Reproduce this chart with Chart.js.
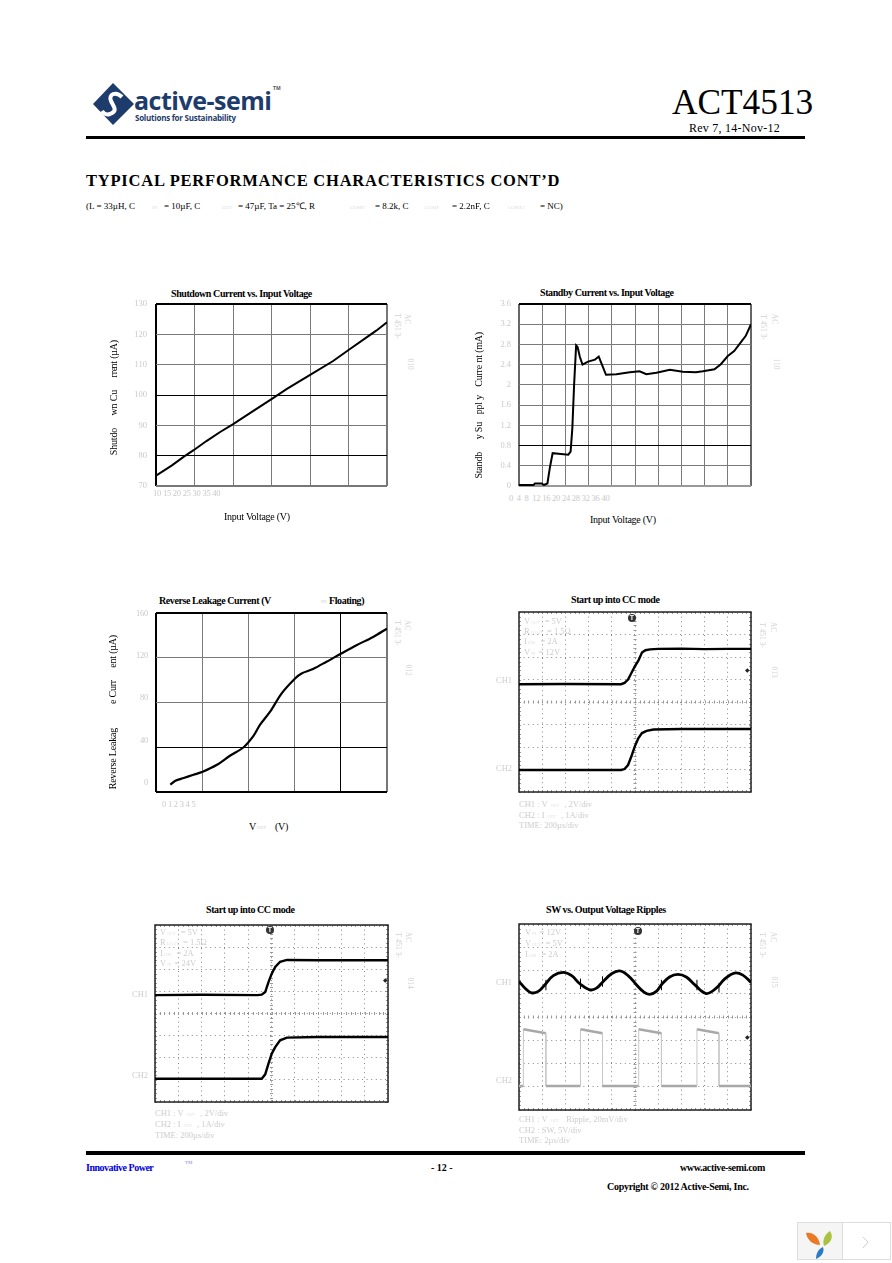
<!DOCTYPE html>
<html>
<head>
<meta charset="utf-8">
<title>ACT4513</title>
<script src="https://cdn.jsdelivr.net/npm/chart.js@4"></script>
<style>
html, body { margin: 0; padding: 0; background: #fff; }
#page { position: relative; width: 892px; height: 1263px; overflow: hidden; font-family: "Liberation Serif", serif; color: #000; }
#page canvas { position: absolute; }
.t { position: absolute; white-space: pre; line-height: 1; transform: translateY(-50%); }
.b { font-weight: bold; }
.title { font-weight: bold; font-size: 10px; letter-spacing: -0.42px; }
.axis { font-size: 10px; letter-spacing: -0.25px; }
.tick { font-size: 8.5px; color: #c9c9c9; letter-spacing: -0.25px; }
.note { font-size: 8.5px; color: #cdcdcd; }
.note sub { font-size: 4px; vertical-align: baseline; padding: 0 1px; color: #e2e2e2; }
.v { position: absolute; white-space: pre; line-height: 1; writing-mode: vertical-rl; transform: translateX(-50%) rotate(180deg); font-size: 10px; letter-spacing: -0.2px; }
.faint { position: absolute; white-space: pre; line-height: 1; writing-mode: vertical-rl; transform: translate(-50%, -50%); font-size: 7.5px; color: #d2d2d2; }
.trig { position: absolute; width: 8px; height: 8px; border-radius: 50%; background: #333; color: #fff; font: bold 7px/8px "Liberation Sans", sans-serif; text-align: center; transform: translate(-50%, -50%); }
.rule { position: absolute; left: 86px; width: 719px; background: #000; }
</style>
</head>
<body>
<div id="page">
  <svg style="position:absolute;left:90px;top:80px" width="48" height="48" viewBox="0 0 48 48">
    <polygon points="23,3 44,24 23,45 3,24" fill="#1d3c6c"/>
    <path d="M32,17 C26,11 18,14 21,21 C24,27 28,31 20,34 C17,35 14,34 12,31" fill="none" stroke="#fff" stroke-width="4"/>
  </svg>
  <div class="t" style="left:134px;top:100px;font:bold 25px 'Open Sans',sans-serif;color:#1d3c6c;letter-spacing:-0.5px">active-semi</div>
  <div class="t" style="left:135px;top:117px;font:bold 8px 'Open Sans',sans-serif;color:#1d3c6c;letter-spacing:-0.25px">Solutions for Sustainability</div>
  <div class="t" style="left:273px;top:88px;font:bold 5px 'Open Sans',sans-serif;color:#555">TM</div>
  <div class="t" style="left:672px;top:103px;font-size:35.3px">ACT4513</div>
  <div class="t" style="left:689px;top:128px;font-size:12px;letter-spacing:0.25px">Rev 7, 14-Nov-12</div>
  <div class="rule" style="top:136px;height:3px"></div>
  <div class="t b" style="left:86px;top:181px;font-size:16.5px;letter-spacing:0.78px">TYPICAL PERFORMANCE CHARACTERISTICS CONT’D</div>
  <div class="rule" style="top:1151px;height:4px"></div>
  <div class="t b" style="left:86px;top:1168px;font-size:10px;color:#0000e0;letter-spacing:-0.5px">Innovative Power</div>
  <div class="t" style="left:185px;top:1162px;font-size:5px;color:#8888dd">TM</div>
  <div class="t b" style="left:431px;top:1168px;font-size:10px">- 12 -</div>
  <div class="t b" style="left:680px;top:1168px;font-size:10px;letter-spacing:-0.35px">www.active-semi.com</div>
  <div class="t b" style="left:607px;top:1187px;font-size:10px;letter-spacing:-0.28px">Copyright © 2012 Active-Semi, Inc.</div>
  <svg style="position:absolute;left:797px;top:1222px" width="94" height="38" viewBox="0 0 94 38">
    <rect x="0.5" y="0.5" width="93" height="37" fill="#fff" stroke="#ddd"/>
    <rect x="0.5" y="0.5" width="45" height="37" fill="#f5f5f5" stroke="#ddd"/>
    <path d="M9,11 C16,10 22,15 23,23 C16,23 10,18 9,11 Z" fill="#ea7a26"/>
    <path d="M33,9 C37,15 34,21 27,24 C25,18 28,12 33,9 Z" fill="#a9c23f"/>
    <path d="M26,25 C28,30 24,35 19,37 C19,32 21,27 26,25 Z" fill="#2c7cc4"/>
    <path d="M66,15 L71,20 L66,26" fill="none" stroke="#ccc"/>
  </svg>
</div>
<script>
// readings off the page, one x and one y list per curve
var shutdownVin = [10, 12.07, 13.58, 14.88, 16.6, 18.33, 19.97, 22.2, 25.1, 27, 30.07, 33, 35.1, 37.3, 38.6, 40];
var shutdownUa = [73.4, 76.8, 79.6, 81.8, 84.9, 87.8, 90.3, 94, 98.8, 102, 106.7, 111.2, 115, 118.9, 121.2, 124];
var shutdownXTicks = '10 15 20 25 30 35 40';

var standbyVin = [0, 2.5, 2.75, 3.9, 4.3, 4.9, 5.3, 5.8, 6.8, 8.5, 8.9, 9.2, 9.5, 9.85, 10.1, 10.5, 10.95, 11.9, 13.1, 13.75, 14.3, 15, 16.8, 19.1, 20.8, 21.95, 23.7, 26, 28.25, 30.5, 31.7, 33.7, 34.8, 36, 37.1, 38.3, 39.1, 40];
var standbyMa = [0.02, 0.02, 0.05, 0.05, 0.02, 0.05, 0.35, 0.65, 0.64, 0.62, 0.68, 1.15, 2, 2.78, 2.75, 2.55, 2.4, 2.46, 2.5, 2.56, 2.4, 2.2, 2.21, 2.25, 2.27, 2.21, 2.24, 2.3, 2.26, 2.25, 2.27, 2.31, 2.41, 2.57, 2.67, 2.85, 2.97, 3.2];
var standbyXTicks = '0  4  8  12 16 20 24 28 32 36 40';

var leakVout = [0.31, 0.42, 0.6, 0.81, 1.01, 1.32, 1.6, 1.89, 2.11, 2.25, 2.47, 2.72, 3.01, 3.15, 3.4, 3.69, 4.01, 4.34, 4.7, 5];
var leakUa = [6.5, 10.1, 12.5, 15.4, 18.1, 24.3, 32.4, 39.8, 50.2, 60, 71.8, 88.2, 101.5, 106, 110, 116.4, 123.8, 131.2, 138.6, 146];
var leakXTicks = '0 1 2 3 4 5';
var leakYTicks = ['160', '120', '80', '40', '0'];

// scope traces, in divisions (10 across, 8 up)
var cc12Time = [0, 2, 4.4, 4.55, 4.7, 4.85, 5, 5.15, 5.3, 5.45, 5.65, 6, 7, 8, 9, 10];
var cc12Ch1 = [4.79, 4.8, 4.79, 4.85, 5, 5.3, 5.6, 5.85, 6.2, 6.3, 6.34, 6.36, 6.37, 6.35, 6.36, 6.36];
var cc12Time2 = [0, 2, 4.4, 4.55, 4.7, 4.85, 5, 5.15, 5.3, 5.5, 5.8, 7, 10];
var cc12Ch2 = [0.98, 0.98, 0.98, 1.02, 1.2, 1.6, 2.05, 2.4, 2.62, 2.72, 2.78, 2.8, 2.8];

var cc24Time = [0, 2, 4.4, 4.58, 4.73, 4.87, 5.01, 5.16, 5.37, 5.66, 7, 10];
var cc24Ch1 = [4.83, 4.85, 4.83, 4.85, 4.97, 5.42, 5.8, 6.1, 6.34, 6.42, 6.41, 6.41];
var cc24Ch2 = [1.05, 1.05, 1.05, 1.05, 1.25, 1.73, 2.18, 2.48, 2.79, 2.91, 2.94, 2.94];

var rippleTime = [0, 0.26, 0.54, 0.83, 1.12, 1.48, 1.91, 2.27, 2.62, 3.05, 3.34, 3.63, 3.99, 4.34, 4.7, 5.06, 5.35, 5.63, 5.92, 6.14, 6.49, 6.85, 7.21, 7.57, 8.07, 8.5, 8.86, 9.29, 9.65, 10];
var rippleCh1 = [5.53, 5.24, 5.04, 5.1, 5.39, 5.78, 5.92, 5.78, 5.43, 5.17, 5.24, 5.53, 5.86, 5.98, 5.78, 5.39, 5.1, 4.97, 5.1, 5.39, 5.72, 5.83, 5.72, 5.39, 5.01, 5.24, 5.63, 5.89, 5.8, 5.49];
var spikeTime = [1.16, 1.16, null, 2.65, 2.65, null, 3.6, 3.6, null, 6.14, 6.14, null, 7.67, 7.67, null, 8.62, 8.62];
var spikeCh1 = [5.15, 5.6, null, 5.2, 5.65, null, 5.3, 5.75, null, 5.15, 5.6, null, 5.15, 5.6, null, 5.05, 5.45];
var swTime = [0, 0.19, 0.19, 1.16, 1.16, 2.65, 2.65, 3.6, 3.6, 5.16, 5.16, 6.14, 6.14, 7.67, 7.67, 8.62, 8.62, 10];
var swCh2 = [1.03, 1.03, 3.47, 3.3, 1.03, 1.03, 3.47, 3.3, 1.03, 1.03, 3.47, 3.3, 1.03, 1.03, 3.47, 3.3, 1.03, 1.03];

var page = document.getElementById('page');
var BLACK = '#000', GRID = '#7a7a7a', EDGE = '#777';

function put(x, y, html, cls, css) {
  var el = document.createElement('div');
  el.className = 't ' + (cls || '');
  el.style.left = x + 'px';
  el.style.top = y + 'px';
  if (css) el.style.cssText += css;
  el.innerHTML = html;
  page.appendChild(el);
}
function vert(x, top, str) {
  var el = document.createElement('div');
  el.className = 'v';
  el.style.left = x + 'px';
  el.style.top = top + 'px';
  el.textContent = str;
  page.appendChild(el);
}
function faint(x, y, str) {
  var el = document.createElement('div');
  el.className = 'faint';
  el.style.left = x + 'px';
  el.style.top = y + 'px';
  el.textContent = str;
  page.appendChild(el);
}
function trig(x, y) {
  var el = document.createElement('div');
  el.className = 'trig';
  el.style.left = x + 'px';
  el.style.top = y + 'px';
  el.textContent = 'T';
  page.appendChild(el);
}
function pts(xs, ys) {
  return xs.map(function (x, i) { return { x: x, y: ys[i] }; });
}
function line(xs, ys, width, color, tension) {
  return { data: pts(xs, ys), borderColor: color || BLACK, borderWidth: width, pointRadius: 0, showLine: true, tension: tension || 0, spanGaps: false };
}

// plot area is given in page pixels; canvas is grown around it for the y labels
function addChart(area, datasets, xs, ys, plugins) {
  var c = document.createElement('canvas');
  var left = 44, pad = 5;
  c.width = area.w + left + pad;
  c.height = area.h + pad * 2;
  c.style.left = (area.l - left) + 'px';
  c.style.top = (area.t - pad) + 'px';
  page.appendChild(c);
  return new Chart(c, {
    type: 'scatter',
    data: { datasets: datasets },
    plugins: plugins || [],
    options: {
      responsive: false,
      animation: false,
      layout: { padding: { top: pad, right: pad, bottom: pad, left: 0 } },
      plugins: { legend: { display: false }, tooltip: { enabled: false } },
      scales: {
        x: Object.assign({ type: 'linear', ticks: { display: false }, afterFit: function (s) { s.height = 0; } }, xs),
        // tick label overhang would otherwise shrink the plot
        y: Object.assign({ type: 'linear', afterFit: function (s) { s.width = left; s.paddingTop = 0; s.paddingBottom = 0; } }, ys)
      }
    }
  });
}

// colour and weight of each grid line, the heavy ones differ from plot to plot
function gridOf(darkVals, heavyVals, heavyColor) {
  return {
    drawTicks: false,
    color: function (ctx) {
      var v = ctx.tick.value;
      if (darkVals.indexOf(v) >= 0) return BLACK;
      return heavyVals.indexOf(v) >= 0 ? (heavyColor || EDGE) : GRID;
    },
    lineWidth: function (ctx) {
      var v = ctx.tick.value;
      return heavyVals.indexOf(v) >= 0 ? 2 : 1;
    }
  };
}
function yTicksOpts(step) {
  return { stepSize: step, padding: 9, color: '#c9c9c9', font: { family: 'Liberation Serif', size: 8.5 } };
}

// ---- shutdown current
addChart({ l: 156, t: 304, w: 231, h: 182 },
  [line(shutdownVin, shutdownUa, 2)],
  { min: 10, max: 40, grid: gridOf([10], [10, 40]), border: { display: false }, ticks: { display: false, stepSize: 5 } },
  { min: 70, max: 130, grid: gridOf([130, 100, 80], [130, 70]), border: { display: false }, ticks: yTicksOpts(10) });
put(171, 294, 'Shutdown Current vs. Input Voltage', 'title');
put(153, 493, shutdownXTicks, 'tick');
put(224, 517, 'Input Voltage (V)', 'axis');
vert(114, 428, 'Shutdo');
vert(114, 390, 'wn Cu');
vert(114, 367, 'rre');
vert(114, 340, 'nt (µA)');
faint(407, 319, 'AC'); faint(397, 326, 'T 451 3-'); faint(410, 364, '010');

// ---- standby current
addChart({ l: 519, t: 304, w: 232, h: 182 },
  [line(standbyVin, standbyMa, 2)],
  { min: 0, max: 40, grid: gridOf([], [0, 40], '#666'), border: { display: false }, ticks: { display: false, stepSize: 4 } },
  { min: 0, max: 3.6, grid: gridOf([3.6, 0.8], [3.6, 0], '#999'), border: { display: false },
    ticks: Object.assign(yTicksOpts(0.4), { padding: 8, callback: function (v) { return String(Math.round(v * 10) / 10); } }) });
put(540, 293, 'Standby Current vs. Input Voltage', 'title');
put(509, 498, standbyXTicks, 'tick');
put(590, 520, 'Input Voltage (V)', 'axis');
vert(479, 452, 'Standb');
vert(479, 422, 'y Su');
vert(479, 395, 'ppl y');
vert(479, 365, 'Curre');
vert(479, 332, 'nt (mA)');
faint(774, 319, 'AC'); faint(763, 327, 'T 451 3-'); faint(776, 364, '110');

// ---- reverse leakage, its y labels sit away from the grid lines so they are placed by hand
addChart({ l: 156, t: 613, w: 231, h: 179 },
  [line(leakVout, leakUa, 2.2, BLACK, 0.3)],
  { min: 0, max: 5, grid: gridOf([0, 4], [0, 5]), border: { display: false }, ticks: { display: false, stepSize: 1 } },
  { min: 0, max: 160, grid: gridOf([160, 40, 0], [160, 0]), border: { display: false }, ticks: { display: false, stepSize: 40 } });
put(159, 601, 'Reverse Leakage Current (V', 'title');
put(321, 601, 'IN', 'note', 'font-size:5px');
put(329, 601, 'Floating)', 'title');
[613, 655, 697, 740, 782].forEach(function (y, i) {
  put(148, y, leakYTicks[i], 'tick', 'transform:translate(-100%,-50%)');
});
put(162, 804, leakXTicks, 'tick');
put(249, 827, 'V', 'axis');
put(257, 828, 'OUT', 'note', 'font-size:4.5px');
put(275, 827, '(V)', 'axis');
vert(113, 728, 'Reverse Leakag');
vert(113, 680, 'e Curr');
vert(113, 635, 'ent (µA)');
faint(407, 625, 'AC'); faint(397, 633, 'T 451 3-'); faint(408, 670, '012');

// ---- scope shots
var scopeFrame = {
  id: 'scopeFrame',
  beforeDatasetsDraw: function (chart) {
    var g = chart.ctx, a = chart.chartArea, sx = chart.scales.x, sy = chart.scales.y;
    var cx = sx.getPixelForValue(5), cy = sy.getPixelForValue(4), i, p;
    g.save();
    g.strokeStyle = '#999';
    g.lineWidth = 1;
    g.beginPath();
    for (i = 0; i <= 50; i++) {
      p = Math.round(sx.getPixelForValue(i / 5)) + 0.5;
      g.moveTo(p, cy - 1.5); g.lineTo(p, cy + 1.5);
      g.moveTo(p, a.top); g.lineTo(p, a.top + 2);
      g.moveTo(p, a.bottom - 2); g.lineTo(p, a.bottom);
    }
    for (i = 0; i <= 40; i++) {
      p = Math.round(sy.getPixelForValue(i / 5)) + 0.5;
      g.moveTo(cx - 1.5, p); g.lineTo(cx + 1.5, p);
      g.moveTo(a.left, p); g.lineTo(a.left + 2, p);
      g.moveTo(a.right - 2, p); g.lineTo(a.right, p);
    }
    g.stroke();
    g.strokeStyle = '#222';
    g.lineWidth = 1.5;
    g.strokeRect(a.left, a.top, a.right - a.left, a.bottom - a.top);
    g.restore();
  }
};
function scope(area, datasets) {
  var dotted = { drawTicks: false, color: '#888', lineWidth: 1 };
  addChart(area, datasets,
    { min: 0, max: 10, grid: dotted, border: { display: false, dash: [1, 3.6] }, ticks: { display: false, stepSize: 1 } },
    { min: 0, max: 8, grid: dotted, border: { display: false, dash: [1, 3.6] }, ticks: { display: false, stepSize: 1 } },
    [scopeFrame]);
}
function notes(x, ys, lines) {
  lines.forEach(function (s, i) { put(x, ys[i], s, 'note'); });
}

scope({ l: 519, t: 612, w: 232, h: 180 },
  [line(cc12Time, cc12Ch1, 2.4), line(cc12Time2, cc12Ch2, 2.4)]);
put(571, 600, 'Start up into CC mode', 'title');
notes(524, [621, 631, 641, 652], ['V<sub>OUT</sub>  = 5V', 'R<sub>LOAD</sub>  = 1.5Ω', 'I<sub>LIM</sub>  = 2A', 'V<sub>IN</sub> = 12V']);
notes(519, [804, 815, 825], ['CH1 : V<sub>  OUT</sub>  , 2V/div', 'CH2 : I<sub>  OUT</sub>  , 1A/div', 'TIME: 200µs/div']);
put(496, 680, 'CH1', 'note'); put(496, 768, 'CH2', 'note');
trig(632, 618);
put(745, 670, '◆', 'note', 'font-size:6px;color:#222');
faint(773, 627, 'AC'); faint(762, 635, 'T 451 3-'); faint(774, 672, '013');

scope({ l: 155, t: 925, w: 233, h: 177 },
  [line(cc24Time, cc24Ch1, 2.4), line(cc24Time, cc24Ch2, 2.4)]);
put(206, 910, 'Start up into CC mode', 'title');
notes(160, [932, 942, 953, 963], ['V<sub>OUT</sub>  = 5V', 'R<sub>LOAD</sub>  = 1.5Ω', 'I<sub>LIM</sub>  = 2A', 'V<sub>IN</sub> = 24V']);
notes(155, [1113, 1124, 1135], ['CH1 : V<sub>  OUT</sub>  , 2V/div', 'CH2 : I<sub>  OUT</sub>  , 1A/div', 'TIME: 200µs/div']);
put(132, 994, 'CH1', 'note'); put(132, 1075, 'CH2', 'note');
trig(270, 930);
put(383, 980, '◆', 'note', 'font-size:6px;color:#222');
faint(408, 937, 'AC'); faint(398, 945, 'T 451 3-'); faint(410, 983, '014');

var swTrace = line(swTime, swCh2, 2.5, '#a8a8a8');
swTrace.segment = {
  borderWidth: function (ctx) { return ctx.p0.parsed.x === ctx.p1.parsed.x ? 1 : 2.5; },
  borderColor: function (ctx) { return ctx.p0.parsed.x === ctx.p1.parsed.x ? '#c8c8c8' : '#a8a8a8'; }
};
scope({ l: 519, t: 924, w: 232, h: 186 },
  [line(rippleTime, rippleCh1, 2.8, BLACK, 0.4), line(spikeTime, spikeCh1, 1), swTrace]);
put(546, 910, 'SW vs. Output Voltage Ripples', 'title');
notes(525, [932, 943, 954], ['V<sub>IN</sub> = 12V', 'V<sub>OUT</sub>  = 5V', 'I<sub>LIM</sub>  = 2A']);
notes(519, [1119, 1130, 1140], ['CH1 : V<sub>  OUT</sub>   Ripple, 20mV/div', 'CH2 : SW, 5V/div', 'TIME: 2µs/div']);
put(496, 982, 'CH1', 'note'); put(496, 1080, 'CH2', 'note');
trig(638, 931);
put(745, 1037, '◆', 'note', 'font-size:6px;color:#222');
faint(773, 937, 'AC'); faint(762, 945, 'T 451 3-'); faint(774, 982, '015');

// ---- conditions line, the subscripts come out nearly invisible on the page
[[86, '(L = 33µH, C'], [164, '= 10µF, C'], [238, '= 47µF, Ta = 25℃, R'], [375, '= 8.2k, C'], [452, '= 2.2nF, C'], [540, '= NC)']].forEach(function (s) {
  put(s[0], 206, s[1], '', 'font-size:9px');
});
[[152, 'IN'], [222, 'OUT'], [350, 'COMP'], [425, 'COMP'], [508, 'COMP2']].forEach(function (s) {
  put(s[0], 207, s[1], 'note', 'font-size:5px;color:#ddd');
});
</script>
</body>
</html>
